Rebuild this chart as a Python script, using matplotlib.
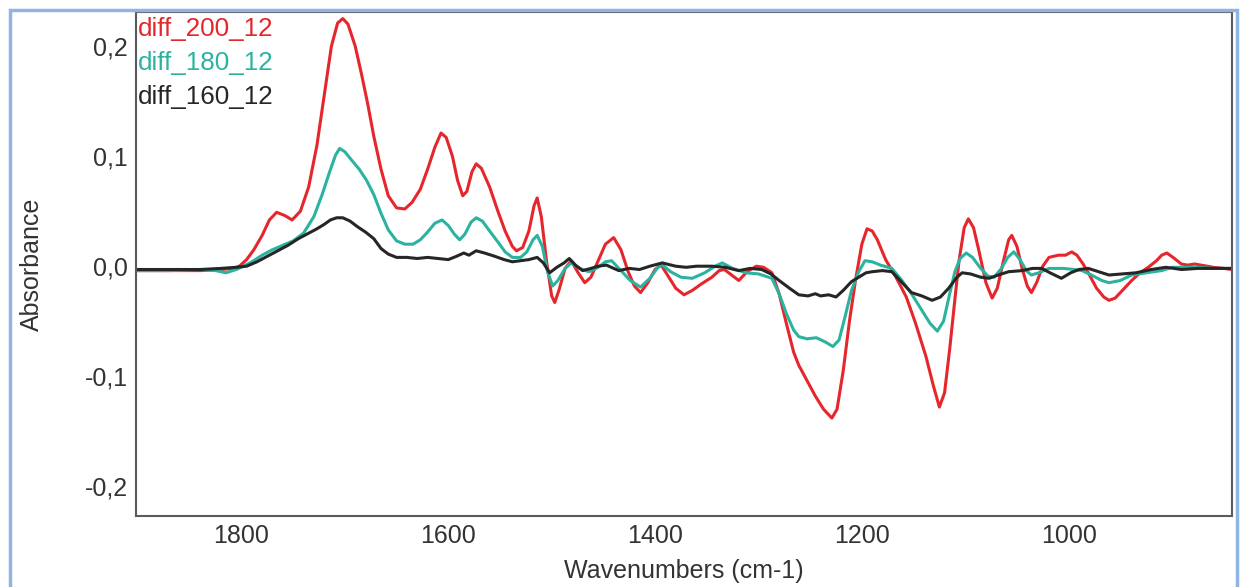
import matplotlib.pyplot as plt
from matplotlib.patches import Rectangle
from matplotlib.ticker import FuncFormatter

plt.rcParams['font.family'] = ['Liberation Sans', 'DejaVu Sans']

# values (wavenumber in cm-1, absorbance)
wn_200 = [1902, 1880, 1860, 1840, 1820, 1808, 1802, 1795, 1788, 1780, 1773, 1766,
          1758, 1751, 1743, 1735, 1727, 1720, 1713, 1707, 1702, 1697, 1690, 1684,
          1678, 1672, 1665, 1658, 1650, 1642, 1635, 1627, 1620, 1613, 1607, 1602,
          1596, 1591, 1586, 1582, 1577, 1573, 1568, 1560, 1552, 1545, 1538, 1534,
          1528, 1522, 1517, 1514, 1510, 1505, 1500, 1497, 1493, 1487, 1481, 1475,
          1468, 1462, 1455, 1448, 1440, 1433, 1426, 1420, 1414, 1407, 1400, 1394,
          1388, 1380, 1372, 1364, 1355, 1345, 1338, 1333, 1326, 1319, 1311, 1302,
          1295, 1287, 1280, 1273, 1266, 1261, 1253, 1245, 1237, 1229, 1224, 1218,
          1212, 1206, 1200, 1195, 1190, 1185, 1177, 1167, 1157, 1148, 1138, 1131,
          1125, 1120, 1115, 1110, 1106, 1101, 1097, 1092, 1087, 1080, 1074, 1069,
          1063, 1058, 1055, 1050, 1045, 1040, 1036, 1031, 1025, 1019, 1010, 1003,
          997, 992, 986, 981, 973, 966, 961, 955, 947, 939, 931, 923, 915, 910, 905,
          899, 891, 885, 878, 872, 860, 850, 842]
abs_200 = [-0.004, -0.004, -0.004, -0.004, -0.003, -0.002, 0.000, 0.006, 0.015,
           0.028, 0.042, 0.049, 0.046, 0.042, 0.050, 0.072, 0.110, 0.155, 0.200,
           0.221, 0.225, 0.220, 0.200, 0.175, 0.148, 0.118, 0.088, 0.064, 0.053,
           0.052, 0.058, 0.070, 0.088, 0.108, 0.121, 0.117, 0.100, 0.078, 0.064,
           0.068, 0.086, 0.093, 0.089, 0.072, 0.050, 0.032, 0.018, 0.014, 0.017,
           0.032, 0.055, 0.062, 0.045, 0.005, -0.027, -0.033, -0.022, -0.002, 0.005,
           -0.005, -0.015, -0.010, 0.005, 0.020, 0.026, 0.015, -0.005, -0.018,
           -0.024, -0.015, -0.003, 0.001, -0.008, -0.020, -0.026, -0.022, -0.016,
           -0.010, -0.004, -0.003, -0.008, -0.013, -0.005, 0.000, -0.001, -0.006,
           -0.025, -0.052, -0.078, -0.090, -0.104, -0.118, -0.130, -0.138, -0.130,
           -0.095, -0.050, -0.012, 0.020, 0.034, 0.032, 0.024, 0.006, -0.010, -0.028,
           -0.052, -0.082, -0.108, -0.128, -0.115, -0.075, -0.030, 0.005, 0.035,
           0.043, 0.035, 0.015, -0.015, -0.029, -0.020, 0.005, 0.024, 0.028, 0.018,
           -0.002, -0.018, -0.024, -0.015, 0.000, 0.008, 0.010, 0.010, 0.013, 0.010,
           0.002, -0.006, -0.020, -0.028, -0.031, -0.029, -0.021, -0.013, -0.006,
           -0.001, 0.005, 0.010, 0.012, 0.008, 0.002, 0.001, 0.002, 0.001, -0.001,
           -0.002, -0.003]

wn_180 = [1902, 1870, 1840, 1825, 1815, 1805, 1798, 1790, 1780, 1770, 1760, 1750,
          1740, 1730, 1722, 1715, 1709, 1705, 1700, 1694, 1686, 1679, 1672, 1665,
          1658, 1650, 1642, 1634, 1627, 1620, 1613, 1606, 1600, 1594, 1589, 1584,
          1578, 1573, 1567, 1560, 1552, 1545, 1538, 1530, 1524, 1518, 1514, 1509,
          1504, 1499, 1494, 1487, 1481, 1473, 1464, 1455, 1448, 1442, 1434, 1424,
          1414, 1405, 1398, 1394, 1385, 1375, 1364, 1352, 1342, 1335, 1325, 1312,
          1300, 1287, 1280, 1273, 1266, 1261, 1253, 1244, 1235, 1228, 1222, 1216,
          1210, 1203, 1197, 1190, 1182, 1171, 1162, 1152, 1142, 1134, 1127, 1121,
          1115, 1110, 1105, 1099, 1093, 1085, 1078, 1072, 1065, 1059, 1053, 1047,
          1041, 1036, 1029, 1019, 1005, 995, 987, 978, 968, 961, 950, 939, 925, 910,
          900, 891, 875, 860, 842]
abs_180 = [-0.004, -0.004, -0.003, -0.004, -0.006, -0.003, 0.000, 0.004, 0.010,
           0.015, 0.019, 0.023, 0.030, 0.045, 0.065, 0.085, 0.101, 0.107, 0.104,
           0.097, 0.088, 0.078, 0.065, 0.048, 0.033, 0.023, 0.020, 0.020, 0.024,
           0.031, 0.039, 0.042, 0.037, 0.029, 0.024, 0.029, 0.040, 0.044, 0.041,
           0.032, 0.022, 0.013, 0.008, 0.008, 0.013, 0.024, 0.028, 0.018, -0.005,
           -0.018, -0.013, -0.002, 0.003, -0.002, -0.005, -0.001, 0.004, 0.005,
           -0.003, -0.013, -0.019, -0.011, -0.002, 0.002, -0.005, -0.010, -0.011,
           -0.006, 0.000, 0.003, -0.002, -0.006, -0.007, -0.011, -0.025, -0.043,
           -0.058, -0.064, -0.066, -0.065, -0.069, -0.073, -0.067, -0.045, -0.022,
           -0.005, 0.005, 0.004, 0.001, -0.002, -0.012, -0.025, -0.040, -0.052,
           -0.059, -0.050, -0.025, -0.005, 0.007, 0.012, 0.008, -0.002, -0.009,
           -0.010, -0.002, 0.008, 0.013, 0.006, -0.004, -0.008, -0.006, -0.002,
           -0.002, -0.003, -0.004, -0.008, -0.013, -0.015, -0.013, -0.008, -0.006,
           -0.004, -0.001, -0.001, -0.001, -0.002, -0.002]

wn_160 = [1902, 1880, 1860, 1840, 1820, 1805, 1795, 1785, 1775, 1765, 1755, 1745,
          1735, 1727, 1720, 1714, 1708, 1702, 1695, 1688, 1680, 1672, 1665, 1658,
          1650, 1640, 1630, 1620, 1610, 1600, 1592, 1585, 1580, 1573, 1565, 1555,
          1546, 1538, 1530, 1522, 1514, 1508, 1502, 1495, 1488, 1483, 1477, 1470,
          1462, 1455, 1447, 1440, 1435, 1425, 1415, 1405, 1393, 1380, 1370, 1360,
          1345, 1332, 1319, 1308, 1297, 1288, 1280, 1270, 1261, 1252, 1245, 1240,
          1232, 1225, 1218, 1210, 1203, 1196, 1190, 1180, 1171, 1162, 1152, 1142,
          1132, 1124, 1116, 1108, 1103, 1095, 1085, 1077, 1068, 1058, 1045, 1035,
          1026, 1018, 1007, 998, 990, 981, 971, 961, 948, 935, 920, 906, 898, 891,
          875, 860, 842]
abs_160 = [-0.003, -0.003, -0.003, -0.003, -0.002, -0.001, 0.000, 0.004, 0.009,
           0.014, 0.019, 0.025, 0.030, 0.034, 0.038, 0.042, 0.044, 0.044, 0.041,
           0.036, 0.031, 0.025, 0.016, 0.011, 0.008, 0.008, 0.007, 0.008, 0.007,
           0.006, 0.009, 0.012, 0.010, 0.014, 0.012, 0.009, 0.006, 0.004, 0.005,
           0.006, 0.008, 0.003, -0.006, -0.001, 0.003, 0.007, 0.001, -0.004,
           -0.002, 0.000, 0.001, -0.002, -0.004, -0.002, -0.003, 0.000, 0.003,
           0.000, -0.001, 0.000, 0.000, -0.001, -0.004, -0.002, -0.003, -0.007,
           -0.013, -0.020, -0.026, -0.027, -0.025, -0.027, -0.026, -0.028, -0.022,
           -0.014, -0.010, -0.006, -0.005, -0.004, -0.005, -0.014, -0.024, -0.027,
           -0.031, -0.028, -0.020, -0.010, -0.006, -0.007, -0.010, -0.011, -0.008,
           -0.005, -0.004, -0.002, -0.002, -0.006, -0.011, -0.006, -0.003, -0.002,
           -0.005, -0.008, -0.007, -0.006, -0.003, -0.001, -0.002, -0.003, -0.002,
           -0.002, -0.002]

names = ['diff_200_12', 'diff_180_12', 'diff_160_12']
colors = ['#e5262c', '#2bb3a0', '#262626']
x_ticks = [1800, 1600, 1400, 1200, 1000]
y_ticks = [-0.2, -0.1, 0.0, 0.1, 0.2]

fig = plt.figure(figsize=(12.4, 5.87), dpi=100)
ax = fig.add_axes([136 / 1240, 1 - 516 / 587, 1096 / 1240, 504 / 587])

# blue frame round the whole picture
fig.patches.append(Rectangle((10 / 1240, -0.02), 1227 / 1240, 1 - 10 / 587 + 0.02,
                             transform=fig.transFigure, fill=False,
                             edgecolor='#8fb5e3', linewidth=2.5))

for wn, ab, c in zip([wn_200, wn_180, wn_160], [abs_200, abs_180, abs_160], colors):
    ax.plot(wn, ab, color=c, linewidth=2.2, solid_joinstyle='round')

ax.set_xlim(1902, 842)
ax.set_ylim(-0.227, 0.231)
ax.set_xticks(x_ticks)
ax.set_yticks(y_ticks)
ax.yaxis.set_major_formatter(FuncFormatter(lambda v, p: f'{v:.1f}'.replace('.', ',').replace('-0,0', '0,0')))
ax.tick_params(length=0, labelsize=18, colors='#333333', pad=6)
for s in ax.spines.values():
    s.set_color('#5a5a5a')
    s.set_linewidth(1.5)

ax.set_xlabel('Wavenumbers (cm-1)', fontsize=18, color='#333333', labelpad=8)
ax.set_ylabel('Absorbance', fontsize=18, color='#333333', labelpad=29)

for i, (n, c) in enumerate(zip(names, colors)):
    ax.text(0.002, 0.966 - i * 0.0675, n, color=c, fontsize=18.7,
            transform=ax.transAxes, va='center', ha='left')

fig.savefig('out.png', dpi=100)
